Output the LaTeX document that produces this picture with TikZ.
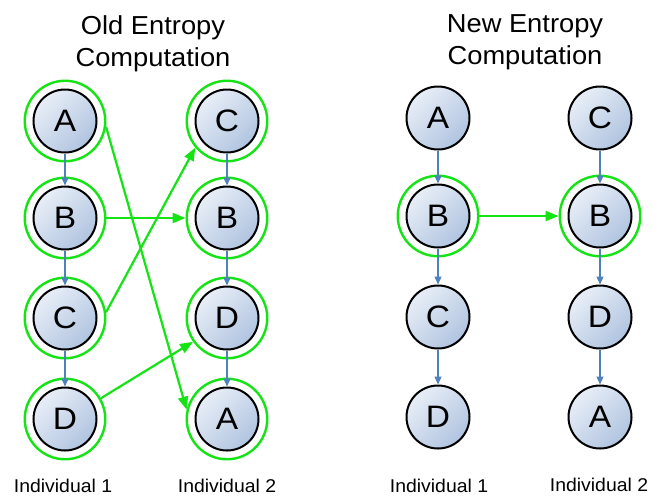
\documentclass[tikz,border=0pt]{standalone}
\usepackage{fontspec}
\setmainfont{Liberation Sans}
\newfontfamily\letterfont[FakeStretch=1.08]{Liberation Sans}
\newfontfamily\labelfont[FakeStretch=1.05]{Liberation Sans}
\usetikzlibrary{arrows.meta}
\pgfdeclarelayer{bg}
\pgfsetlayers{bg,main}
\definecolor{ringgreen}{RGB}{20,228,20}
\definecolor{linkblue}{RGB}{79,129,189}
\definecolor{nodetop}{RGB}{232,238,247}
\definecolor{nodebot}{RGB}{176,196,224}
\definecolor{shadowblue}{RGB}{214,224,239}
\begin{document}
\begin{tikzpicture}[x=1pt,y=-1pt,
  inner/.style={circle, draw=black, line width=2pt, minimum size=63pt, inner sep=0pt,
    shading=axis, top color=nodetop, bottom color=nodebot, shading angle=45,
    font=\letterfont\fontsize{31}{31}\selectfont},
  ring/.style={circle, draw=ringgreen, line width=2.4pt, minimum size=80.5pt, inner sep=0pt},
  blink/.style={draw=linkblue, line width=1.3pt, -{Triangle[length=8pt,width=7pt]}},
  glink/.style={draw=ringgreen, line width=2.2pt, -{Triangle[length=13pt,width=10pt]}},
  gshadow/.style={draw=shadowblue, line width=3pt, -{Triangle[length=13pt,width=10pt]}},
  title/.style={anchor=north, align=center, inner sep=0pt, font=\labelfont\fontsize{26}{32}\selectfont},
  indiv/.style={anchor=base, inner sep=0pt, font=\labelfont\fontsize{18.5}{20}\selectfont}]
\useasboundingbox (0,0) rectangle (663,499);
\fill[white] (0,0) rectangle (663,499);

% titles
\node[title] (t1) at (153,15) {Old Entropy\\Computation};
\node[title] (t2) at (525,14) {New Entropy\\Computation};

% ---------- left panel ----------
\foreach \nm/\x/\y in {LA1/65/121, LB1/65/218, LC1/65/318, LD1/65/419,
                       LC2/227/121, LB2/227/218, LD2/227/318, LA2/227/419}
  \node[ring] (\nm r) at (\x,\y) {};
\node[inner] (LA1) at (65,121) {A};
\node[inner] (LB1) at (65,218) {B};
\node[inner] (LC1) at (65,318) {C};
\node[inner] (LD1) at (65,419) {D};
\node[inner] (LC2) at (227,121) {C};
\node[inner] (LB2) at (227,218) {B};
\node[inner] (LD2) at (227,318) {D};
\node[inner] (LA2) at (227,419) {A};

\draw[blink] (LA1.south) -- (LB1.north);
\draw[blink] (LB1.south) -- (LC1.north);
\draw[blink] (LC1.south) -- (LD1.north);
\draw[blink] (LC2.south) -- (LB2.north);
\draw[blink] (LB2.south) -- (LD2.north);
\draw[blink] (LD2.south) -- (LA2.north);

\draw[glink] (LA1r.-8) -- (LA2r.167);
\draw[glink] (LB1r.0) -- (LB2r.180);
\draw[glink] (LC1r.8) -- (LC2r.220);
\draw[glink] (LD1r.30) -- (LD2r.215);

\node[indiv] (i1) at (63,492) {Individual 1};
\node[indiv] (i2) at (227,492) {Individual 2};

% ---------- right panel ----------
\node[ring] (RB1r) at (438,216) {};
\node[ring] (RB2r) at (600,216) {};
\node[inner] (RA1) at (438,118) {A};
\node[inner] (RB1) at (438,216) {B};
\node[inner] (RC1) at (438,317) {C};
\node[inner] (RD1) at (438,417) {D};
\node[inner] (RC2) at (600,118) {C};
\node[inner] (RB2) at (600,216) {B};
\node[inner] (RD2) at (600,317) {D};
\node[inner] (RA2) at (600,417) {A};

\draw[blink] (RA1.south) -- (RB1.north);
\draw[blink] (RB1.south) -- (RC1.north);
\draw[blink] (RC1.south) -- (RD1.north);
\draw[blink] (RC2.south) -- (RB2.north);
\draw[blink] (RB2.south) -- (RD2.north);
\draw[blink] (RD2.south) -- (RA2.north);

\draw[glink] (RB1r.0) -- (RB2r.180);

\node[indiv] (i3) at (439,492) {Individual 1};
\node[indiv] (i4) at (599,491) {Individual 2};

% ---------- shadows ----------
\begin{pgfonlayer}{bg}
  \foreach \nm in {LA1,LB1,LC1,LD1,LC2,LB2,LD2,LA2,RA1,RB1,RC1,RD1,RC2,RB2,RD2,RA2}
    \fill[shadowblue] ([shift={(3,4)}]\nm.center) circle (32.5);
  \foreach \nm in {LA1r,LB1r,LC1r,LD1r,LC2r,LB2r,LD2r,LA2r,RB1r,RB2r}
    \draw[shadowblue, line width=3pt] ([shift={(3,4)}]\nm.center) circle (40.5);
  \draw[gshadow] ([shift={(3,4)}]LA1r.-8) -- ([shift={(3,4)}]LA2r.167);
  \draw[gshadow] ([shift={(3,4)}]LB1r.0) -- ([shift={(3,4)}]LB2r.180);
  \draw[gshadow] ([shift={(3,4)}]LC1r.8) -- ([shift={(3,4)}]LC2r.220);
  \draw[gshadow] ([shift={(3,4)}]LD1r.30) -- ([shift={(3,4)}]LD2r.215);
  \draw[gshadow] ([shift={(3,4)}]RB1r.0) -- ([shift={(3,4)}]RB2r.180);
\end{pgfonlayer}
\end{tikzpicture}
\end{document}
